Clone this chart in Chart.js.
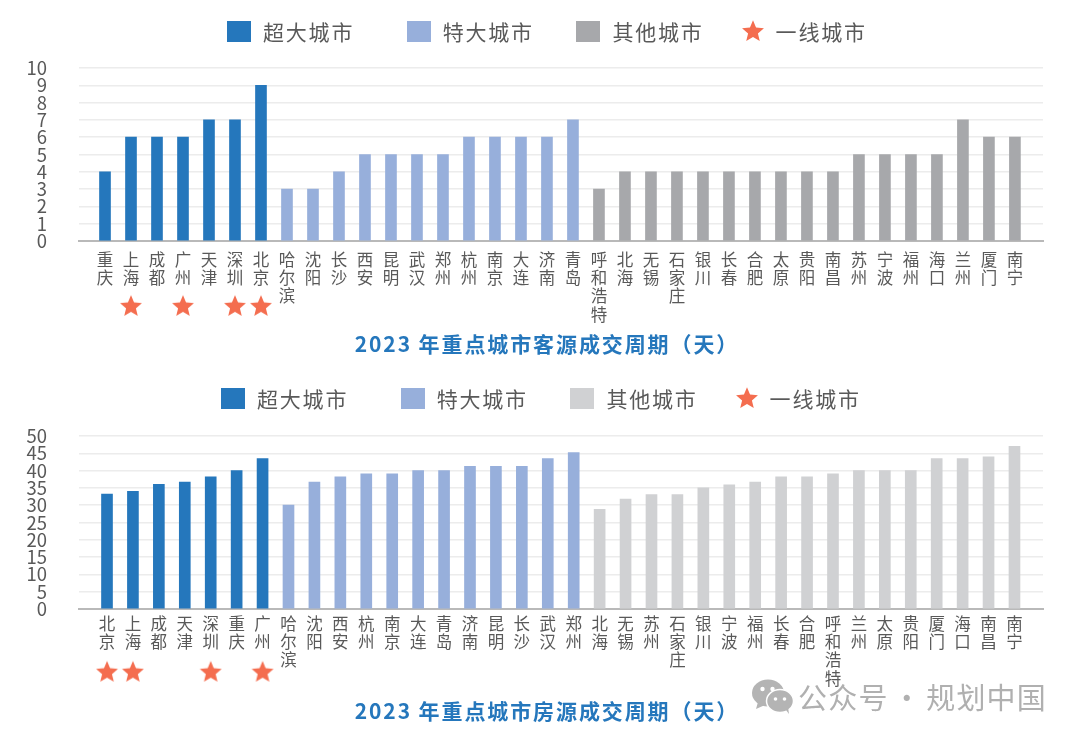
<!DOCTYPE html>
<html lang="zh">
<head>
<meta charset="utf-8">
<title>2023 年重点城市成交周期</title>
<script src="https://cdn.jsdelivr.net/npm/chart.js@4/dist/chart.umd.min.js"></script>
<style>
    html, body { margin: 0; padding: 0; background: #fff; }
    body { position: relative; width: 1080px; height: 741px; overflow: hidden;
           font-family: "Noto Sans CJK SC", "Noto Sans", sans-serif; }
    canvas.chart { position: absolute; left: 0; }
    #chart1 { top: 0; }
    #chart2 { top: 370px; }
    .legend { position: absolute; display: flex; align-items: center; height: 22px;
              font-size: 21px; letter-spacing: 1.8px; color: #595959; white-space: nowrap; }
    .legend .swatch { width: 24px; height: 21px; margin-right: 12px; }
    .legend canvas { margin-right: 11px; }
    .legend span { display: block; }
    .title { position: absolute; left: 0; width: 1094px; text-align: center; font-size: 21px;
             font-weight: bold; letter-spacing: 1.9px; color: #2577bc; line-height: 30px; }
    #mark { position: absolute; left: 798px; top: 676px; font-size: 29px; letter-spacing: 1.2px;
            word-spacing: -4px; color: #b0b0b0; white-space: nowrap; line-height: 40px; }
    #wechat { position: absolute; left: 751px; top: 679px; }
</style>
</head>
<body>
<canvas id="chart1" class="chart" width="1080" height="370"></canvas>
<canvas id="chart2" class="chart" width="1080" height="371"></canvas>

<div class="legend" id="legend1" style="left:227px;top:20px"></div>
<div class="legend" id="legend2" style="left:221px;top:387px"></div>
<div class="title" id="title1" style="top:328px"></div>
<div class="title" id="title2" style="top:695px"></div>

<svg id="wechat" width="44" height="36" viewBox="0 0 44 36">
    <ellipse cx="17" cy="14" rx="16" ry="13.5" fill="#b4b4b4"/>
    <path d="M7 23 L5 30 L14 26 Z" fill="#b4b4b4"/>
    <circle cx="11.5" cy="10" r="2.2" fill="#fff"/>
    <circle cx="21.5" cy="10" r="2.2" fill="#fff"/>
    <ellipse cx="29" cy="22" rx="13.5" ry="11.5" fill="#b4b4b4" stroke="#fff" stroke-width="1.5"/>
    <path d="M35 31 L38 35 L37 28 Z" fill="#b4b4b4"/>
    <circle cx="24.5" cy="20" r="1.8" fill="#fff"/>
    <circle cx="33.5" cy="20" r="1.8" fill="#fff"/>
</svg>
<div id="mark">公众号 · 规划中国</div>

<script>
// top chart: buyer deal cycle
var titleA = '2023 年重点城市客源成交周期（天）';
var superCitiesA = ['重庆', '上海', '成都', '广州', '天津', '深圳', '北京'];
var superDaysA = [4, 6, 6, 6, 7, 7, 9];
var bigCitiesA = ['哈尔滨', '沈阳', '长沙', '西安', '昆明', '武汉', '郑州', '杭州', '南京', '大连', '济南', '青岛'];
var bigDaysA = [3, 3, 4, 5, 5, 5, 5, 6, 6, 6, 6, 7];
var otherCitiesA = ['呼和浩特', '北海', '无锡', '石家庄', '银川', '长春', '合肥', '太原', '贵阳', '南昌', '苏州', '宁波', '福州', '海口', '兰州', '厦门', '南宁'];
var otherDaysA = [3, 4, 4, 4, 4, 4, 4, 4, 4, 4, 5, 5, 5, 5, 7, 6, 6];
var firstTierA = ['上海', '广州', '深圳', '北京'];

// bottom chart: listing deal cycle
var titleB = '2023 年重点城市房源成交周期（天）';
var superCitiesB = ['北京', '上海', '成都', '天津', '深圳', '重庆', '广州'];
var superDaysB = [33.2, 34, 36, 36.7, 38.2, 40, 43.5];
var bigCitiesB = ['哈尔滨', '沈阳', '西安', '杭州', '南京', '大连', '青岛', '济南', '昆明', '长沙', '武汉', '郑州'];
var bigDaysB = [30, 36.7, 38.2, 39.1, 39.1, 40, 40, 41.2, 41.2, 41.2, 43.5, 45.2];
var otherCitiesB = ['北海', '无锡', '苏州', '石家庄', '银川', '宁波', '福州', '长春', '合肥', '呼和浩特', '兰州', '太原', '贵阳', '厦门', '海口', '南昌', '南宁'];
var otherDaysB = [28.8, 31.8, 33.1, 33.1, 35, 35.9, 36.7, 38.2, 38.2, 39.1, 40, 40, 40, 43.5, 43.5, 44, 47];
var firstTierB = ['北京', '上海', '深圳', '广州'];

var seriesNames = ['超大城市', '特大城市', '其他城市', '一线城市'];

var BLUE = '#2577bc';
var LIGHT_BLUE = '#97afdb';
var STAR = '#f46d4f';
var TEXT = '#595959';
var FONT = '"Noto Sans CJK SC", "Noto Sans", sans-serif';
var STAR_SIZE = 24;

function makeStar(size) {
    var c = document.createElement('canvas');
    c.width = c.height = size;
    var ctx = c.getContext('2d');
    var R = size / 2 - 0.5, r = R * 0.45, cx = size / 2, cy = size / 2 + 0.8;
    ctx.beginPath();
    for (var i = 0; i < 10; i++) {
        var rad = i % 2 ? r : R;
        var a = -Math.PI / 2 + i * Math.PI / 5;
        ctx.lineTo(cx + rad * Math.cos(a), cy + rad * Math.sin(a));
    }
    ctx.closePath();
    ctx.fillStyle = STAR;
    ctx.fill();
    return c;
}

// points below the axis get skipped by the point element, so stamp them here
var starPlugin = {
    id: 'starRow',
    afterDatasetsDraw: function (chart) {
        var star = makeStar(STAR_SIZE);
        chart.data.datasets.forEach(function (ds, i) {
            if (ds.type !== 'scatter') return;
            chart.getDatasetMeta(i).data.forEach(function (p) {
                chart.ctx.drawImage(star, p.x - STAR_SIZE / 2, p.y - STAR_SIZE / 2);
            });
        });
    }
};

function toPoints(values, start) {
    return values.map(function (v, i) { return { x: start + i, y: v }; });
}

function drawChart(id, opt) {
    var cities = opt.superCities.concat(opt.bigCities, opt.otherCities);
    var barCommon = { barThickness: 11, grouped: false };

    return new Chart(document.getElementById(id), {
        type: 'bar',
        plugins: [starPlugin],
        data: {
            datasets: [
                Object.assign({ label: seriesNames[0], backgroundColor: BLUE, data: toPoints(opt.superDays, 0) }, barCommon),
                Object.assign({ label: seriesNames[1], backgroundColor: LIGHT_BLUE, data: toPoints(opt.bigDays, opt.superCities.length) }, barCommon),
                Object.assign({ label: seriesNames[2], backgroundColor: opt.otherColor, data: toPoints(opt.otherDays, opt.superCities.length + opt.bigCities.length) }, barCommon),
                {
                    type: 'scatter',
                    label: seriesNames[3],
                    clip: false,
                    backgroundColor: STAR,
                    data: opt.firstTier.map(function (name) {
                        return { x: cities.indexOf(name), y: opt.starRow };
                    })
                }
            ]
        },
        options: {
            responsive: false,
            animation: false,
            events: [],
            layout: { padding: { top: opt.top, right: 37, left: 0, bottom: 0 } },
            plugins: { legend: { display: false }, title: { display: false }, tooltip: { enabled: false } },
            scales: {
                x: {
                    type: 'linear',
                    offset: false,
                    min: opt.xMin,
                    max: opt.xMax,
                    grid: { display: false },
                    border: { color: '#b9b9b9', width: 2 },
                    afterBuildTicks: function (axis) {
                        axis.ticks = cities.map(function (_, i) { return { value: i }; });
                    },
                    afterFit: function (axis) { axis.height = opt.belowAxis; },
                    ticks: {
                        autoSkip: false,
                        maxRotation: 0,
                        padding: opt.tickPad,
                        color: TEXT,
                        font: { family: FONT, size: 16.5, lineHeight: 1.12 },
                        callback: function (value) { return Array.from(cities[value] || ''); }
                    }
                },
                y: {
                    min: 0,
                    max: opt.yMax,
                    grid: { color: '#ececec', lineWidth: 1.5, drawTicks: false },
                    border: { display: false },
                    afterFit: function (axis) { axis.width = 79; },
                    ticks: {
                        stepSize: opt.yStep,
                        autoSkip: false,
                        padding: 32,
                        color: TEXT,
                        font: { family: FONT, size: 18.5 }
                    }
                }
            }
        }
    });
}

function buildLegend(id, chart) {
    var box = document.getElementById(id);
    var gaps = [52.5, 42.5, 37, 0];
    chart.data.datasets.forEach(function (ds, i) {
        var mark;
        if (ds.type === 'scatter') {
            mark = makeStar(STAR_SIZE);
        } else {
            mark = document.createElement('div');
            mark.className = 'swatch';
            mark.style.background = ds.backgroundColor;
        }
        var label = document.createElement('span');
        label.textContent = ds.label;
        label.style.marginRight = gaps[i] + 'px';
        box.appendChild(mark);
        box.appendChild(label);
    });
}

document.getElementById('title1').textContent = titleA;
document.getElementById('title2').textContent = titleB;

var chartA = drawChart('chart1', {
    superCities: superCitiesA, bigCities: bigCitiesA, otherCities: otherCitiesA,
    superDays: superDaysA, bigDays: bigDaysA, otherDays: otherDaysA,
    firstTier: firstTierA, otherColor: '#a7a8ab',
    top: 68, belowAxis: 129, yMax: 10, yStep: 1, starRow: -3.75, tickPad: 1,
    xMin: -1, xMax: 36.08
});

var chartB = drawChart('chart2', {
    superCities: superCitiesB, bigCities: bigCitiesB, otherCities: otherCitiesB,
    superDays: superDaysB, bigDays: bigDaysB, otherDays: otherDaysB,
    firstTier: firstTierB, otherColor: '#d0d1d3',
    top: 66, belowAxis: 132, yMax: 50, yStep: 5, starRow: -18.1, tickPad: -3,
    xMin: -1.08, xMax: 36.1
});

buildLegend('legend1', chartA);
buildLegend('legend2', chartB);
</script>
</body>
</html>
